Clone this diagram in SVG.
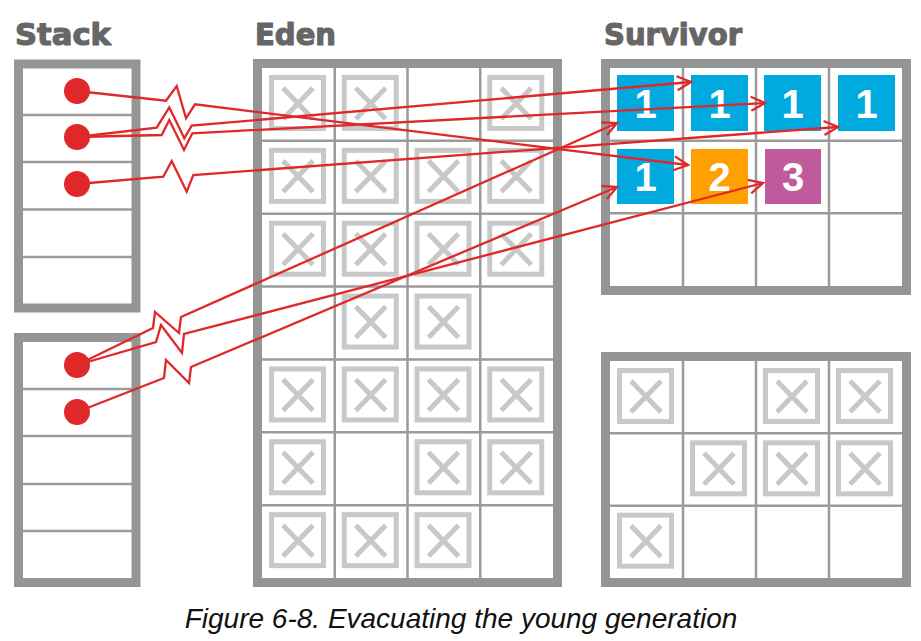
<svg xmlns="http://www.w3.org/2000/svg" xmlns:xlink="http://www.w3.org/1999/xlink" width="921" height="641" viewBox="0 0 921 641">
<style>
.frame{fill:#fff;stroke:#959595;stroke-width:9}
.grid{fill:none;stroke:#9b9b9b;stroke-width:2.5}
.title{font-family:"DejaVu Sans",sans-serif;font-weight:bold;font-size:30px;fill:#666;stroke:#666;stroke-width:1.2;stroke-linejoin:round}
.num{font-family:"Liberation Sans",Arial,sans-serif;font-weight:bold;font-size:40px;fill:#fff;text-anchor:middle}
.blue{fill:#00aadf}
.orange{fill:#ffa000}
.purple{fill:#bf5a9d}
.dot{fill:#e0282a}
.conn{fill:none;stroke:#e0282a;stroke-width:2.3;stroke-linejoin:miter;marker-end:url(#arr)}
.caption{font-family:"Liberation Sans",Arial,sans-serif;font-style:italic;font-size:28px;fill:#111;text-anchor:middle}
</style>
<defs>
<g id="xb">
<rect x="9.5" y="9.5" width="52" height="51" fill="none" stroke="#c8c8c8" stroke-width="5"/>
<path d="M21 20 L51 51 M51 20 L21 51" fill="none" stroke="#c8c8c8" stroke-width="5"/>
</g>
<marker id="arr" markerUnits="userSpaceOnUse" orient="auto" markerWidth="20" markerHeight="20" refX="0" refY="0" overflow="visible">
<path d="M-14,-7 L0,0 L-14,7" fill="none" stroke="#e0282a" stroke-width="2.3"/>
</marker>
</defs>
<rect width="921" height="641" fill="#fff"/>

<g id="stack-top">
<text class="title" x="15" y="45" textLength="96" lengthAdjust="spacingAndGlyphs">Stack</text>
<rect class="frame" x="18.5" y="64" width="117.5" height="244"/>
<path class="grid" d="M23 115 H132 M23 162 H132 M23 209.5 H132 M23 257 H132"/>
<circle class="dot" cx="77" cy="91" r="13"/>
<circle class="dot" cx="77" cy="137" r="13"/>
<circle class="dot" cx="77" cy="184" r="13"/>
</g>

<g id="stack-bottom">
<rect class="frame" x="18.5" y="337.5" width="117.5" height="245"/>
<path class="grid" d="M23 389 H132 M23 436 H132 M23 484 H132 M23 531 H132"/>
<circle class="dot" cx="77" cy="365" r="13"/>
<circle class="dot" cx="77" cy="412" r="13"/>
</g>

<g id="eden">
<text class="title" x="255" y="45" textLength="81" lengthAdjust="spacingAndGlyphs">Eden</text>
<rect class="frame" x="257.5" y="63.5" width="300" height="519"/>
<path class="grid" d="M334.75 68 V578 M407.5 68 V578 M480.25 68 V578 M262 140.86 H553 M262 213.71 H553 M262 286.57 H553 M262 359.43 H553 M262 432.29 H553 M262 505.14 H553"/>
<use href="#xb" x="262" y="68"/><use href="#xb" x="334.75" y="68"/><use href="#xb" x="480.25" y="68"/>
<use href="#xb" x="262" y="140.86"/><use href="#xb" x="334.75" y="140.86"/><use href="#xb" x="407.5" y="140.86"/><use href="#xb" x="480.25" y="140.86"/>
<use href="#xb" x="262" y="213.71"/><use href="#xb" x="334.75" y="213.71"/><use href="#xb" x="407.5" y="213.71"/><use href="#xb" x="480.25" y="213.71"/>
<use href="#xb" x="334.75" y="286.57"/><use href="#xb" x="407.5" y="286.57"/>
<use href="#xb" x="262" y="359.43"/><use href="#xb" x="334.75" y="359.43"/><use href="#xb" x="407.5" y="359.43"/><use href="#xb" x="480.25" y="359.43"/>
<use href="#xb" x="262" y="432.29"/><use href="#xb" x="407.5" y="432.29"/><use href="#xb" x="480.25" y="432.29"/>
<use href="#xb" x="262" y="505.14"/><use href="#xb" x="334.75" y="505.14"/><use href="#xb" x="407.5" y="505.14"/>
</g>

<g id="survivor-top">
<text class="title" x="604" y="45" textLength="138" lengthAdjust="spacingAndGlyphs">Survivor</text>
<rect class="frame" x="605.5" y="63.5" width="301" height="227"/>
<path class="grid" d="M683 68 V286 M756 68 V286 M829 68 V286 M610 140.67 H902 M610 213.33 H902"/>
<rect class="blue" x="617" y="75" width="57" height="56"/><text class="num" x="645.5" y="118">1</text>
<rect class="blue" x="691" y="75" width="57" height="56"/><text class="num" x="719.5" y="118">1</text>
<rect class="blue" x="764" y="75" width="57" height="56"/><text class="num" x="792.5" y="118">1</text>
<rect class="blue" x="838" y="75" width="57" height="56"/><text class="num" x="866.5" y="118">1</text>
<rect class="blue" x="617" y="149" width="57" height="55"/><text class="num" x="645.5" y="191">1</text>
<rect class="orange" x="691" y="149" width="57" height="55"/><text class="num" x="719.5" y="191">2</text>
<rect class="purple" x="765" y="149" width="56" height="55"/><text class="num" x="793" y="191">3</text>
</g>

<g id="survivor-bottom">
<rect class="frame" x="605.5" y="356.5" width="301" height="226"/>
<path class="grid" d="M683 361 V578 M756 361 V578 M829 361 V578 M610 433.33 H902 M610 505.67 H902"/>
<use href="#xb" x="610" y="361"/><use href="#xb" x="756" y="361"/><use href="#xb" x="829" y="361"/>
<use href="#xb" x="683" y="433.33"/><use href="#xb" x="756" y="433.33"/><use href="#xb" x="829" y="433.33"/>
<use href="#xb" x="610" y="505.67"/>
</g>

<g id="connectors">
<path class="conn" d="M77 91 L166 100.7 L176.7 86 L186 118.3 L195 104.3 L688 165"/>
<path class="conn" d="M77 137 L156.7 127.7 L169.3 107.3 L184.3 138.3 L191.7 125.7 L691 82"/>
<path class="conn" d="M77 137 L161.7 135 L169.3 120 L184 150 L192.3 133.3 L765 103"/>
<path class="conn" d="M77 184 L163.3 176.7 L171.7 161 L186.7 191.7 L193.3 175 L838 127"/>
<path class="conn" d="M77 365 L153 328 L155 312 L179 333 L181 317 L617 123"/>
<path class="conn" d="M77 365 L156 342 L161 325 L182 353 L184 334 L763 183"/>
<path class="conn" d="M77 412 L164 378 L166 360 L189 383 L191 367 L617 187"/>
</g>

<text class="caption" x="461" y="628">Figure 6-8. Evacuating the young generation</text>
</svg>
